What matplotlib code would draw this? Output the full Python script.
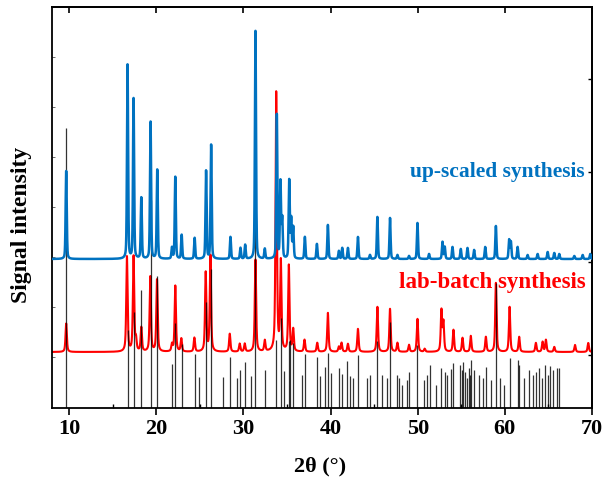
import numpy as np
import matplotlib
matplotlib.use("Agg")
import matplotlib.pyplot as plt

plt.rcParams['font.family'] = ['Liberation Serif', 'DejaVu Serif']
plt.rcParams['font.weight'] = 'bold'

# ---- data (2theta in degrees, intensities in arbitrary units) ----
blue_pos = [9.66, 16.70, 17.39, 18.28, 19.34, 20.11, 21.80, 22.18, 22.91, 24.40,
            25.71, 26.29, 28.51, 29.66, 30.20, 31.38, 32.45, 33.83, 34.25, 34.45,
            35.25, 35.48, 35.71, 37.05, 38.43, 39.69, 40.95, 41.34, 41.99, 43.14,
            44.52, 45.37, 46.82, 47.67, 49.00, 49.97, 51.30, 52.84, 53.10, 53.99,
            54.94, 55.71, 56.47, 57.74, 58.97, 60.49, 60.69, 61.46, 62.61, 63.76,
            64.91, 65.67, 66.24, 67.97, 68.93, 69.80]
blue_int = [88, 194, 160, 61, 137, 89, 11, 82, 24, 21,
            88, 114, 22, 11, 14, 228, 10, 144, 76, 39,
            78, 39, 31, 22, 15, 34, 8, 11, 11, 22,
            4, 42, 41, 4, 3, 36, 5, 17, 12, 12,
            10, 11, 9, 12, 33, 19, 17, 12, 4, 5,
            7, 6, 5, 3, 4, 5]

red_pos = [9.66, 16.63, 17.39, 17.67, 18.28, 19.31, 20.08, 21.80, 22.18, 22.87,
           24.37, 25.67, 26.21, 28.43, 29.57, 30.15, 31.38, 32.45, 33.76, 34.29,
           35.21, 35.71, 37.01, 38.47, 39.69, 40.95, 41.26, 41.99, 43.14, 45.37,
           46.82, 47.67, 49.00, 49.97, 50.80, 52.72, 52.95, 54.10, 55.14, 56.09,
           57.82, 58.97, 60.54, 61.64, 63.56, 64.33, 64.71, 65.67, 68.05, 69.57]
red_int = [28.5, 95, 95, 11, 24, 75, 72, 7, 66, 13,
           14, 79, 96, 18, 8, 8, 92, 11, 259, 89,
           86, 22, 12, 9, 39, 5, 9, 8, 23, 45,
           43, 9, 7, 33, 3, 41, 29, 22, 14, 16,
           15, 69, 45, 15, 9, 10, 12, 5, 7, 9]

ref_pos = [9.66, 16.70, 17.39, 18.28, 19.34, 20.11, 21.80, 22.18, 22.91, 24.40,
           24.86, 25.71, 26.29, 27.64, 28.51, 29.28, 29.66, 30.20, 30.92, 31.38,
           32.45, 33.79, 34.31, 34.68, 35.23, 35.40, 35.69, 36.75, 37.05, 38.45,
           38.77, 39.34, 39.69, 40.00, 40.95, 41.26, 41.84, 42.22, 42.56, 43.14,
           44.22, 44.48, 45.37, 45.94, 46.44, 46.82, 47.59, 47.85, 48.16, 48.74,
           49.00, 49.97, 50.72, 51.03, 51.41, 52.07, 52.72, 53.10, 53.41, 53.79,
           54.10, 54.86, 55.06, 55.25, 55.44, 55.63, 55.83, 56.01, 56.15, 56.47,
           57.05, 57.44, 57.82, 58.39, 58.97, 59.46, 59.92, 60.61, 61.46, 61.64,
           62.15, 62.79, 63.25, 63.56, 63.94, 64.22, 64.60, 64.91, 65.21, 65.56,
           65.98, 66.24]
ref_int = [280, 78, 96, 118, 208, 132, 44, 85, 64, 54,
           31, 106, 139, 31, 51, 30, 38, 46, 32, 300,
           38, 68, 90, 37, 67, 68, 65, 33, 54, 51,
           32, 41, 55, 35, 40, 34, 47, 32, 30, 53,
           30, 33, 67, 33, 30, 86, 33, 30, 23, 28,
           36, 63, 28, 33, 43, 23, 40, 36, 33, 39,
           45, 43, 38, 46, 36, 30, 40, 33, 48, 38,
           33, 30, 41, 28, 125, 30, 23, 50, 48, 43,
           30, 38, 33, 36, 40, 30, 43, 33, 42, 38,
           40, 40]

blue_offset = 148.5
red_offset = 55.5
x_ticks = [10, 20, 30, 40, 50, 60, 70]
labels = ["up-scaled synthesis", "lab-batch synthesis"]
blue_c = '#0072C0'
red_c = '#FF0000'


def profile(x, pos, inten, fwhm, eta):
    g = fwhm / 2.0
    s = fwhm / 2.3548
    y = np.zeros_like(x)
    for p, h in zip(pos, inten):
        lor = g**2 / ((x - p)**2 + g**2)
        gau = np.exp(-0.5 * ((x - p) / s)**2)
        y += h * (eta * lor + (1 - eta) * gau)
    return y


x = np.linspace(8, 70, 14000)
blue_y = profile(x, blue_pos, blue_int, 0.15, 0.35) + blue_offset
red_y = profile(x, red_pos, red_int, 0.18, 0.6) + red_offset

fig = plt.figure(figsize=(6.10, 4.83), dpi=100)
ax = fig.add_axes([0.0848, 0.1563, 0.8857, 0.8298])

ax.vlines(ref_pos, 0, ref_int, colors='black', linewidth=0.9, alpha=0.8, zorder=3)
ax.plot(x, red_y, color=red_c, linewidth=1.5, zorder=2)
ax.plot(x, blue_y, color=blue_c, linewidth=1.8, zorder=4)

ax.set_xlim(8, 70)
ax.set_ylim(0, 400.8)

ax.set_xticks(x_ticks)
ax.set_xticklabels([str(t) for t in x_ticks], fontsize=16, fontweight='bold')
ax.set_xticks([15, 25, 35, 45, 55, 65], minor=True)
ax.tick_params(axis='x', which='major', direction='out', length=5, width=1.2, pad=3)
ax.tick_params(axis='x', which='minor', direction='in', length=3, width=1.0)

ax.set_yticks([])
ax.set_yticks([51, 101, 151, 201, 251, 301, 351], minor=True)
ax.tick_params(axis='y', which='minor', direction='in', length=2.5, width=0.6,
               color='#555555', labelleft=False)

top = ax.secondary_xaxis('top')
top.set_xticks(x_ticks)
top.tick_params(axis='x', which='major', direction='in', length=4, width=1.2, labeltop=False)
top.set_xticks([], minor=True)

right = ax.secondary_yaxis('right')
right.set_yticks([53, 146, 236, 329])
right.tick_params(axis='y', direction='in', length=3, width=1.0, labelright=False)
right.set_yticks([], minor=True)

for s in list(ax.spines.values()) + [top.spines['top'], right.spines['right']]:
    s.set_linewidth(1.3)

ax.text(69.1, 235.5, labels[0], color=blue_c, fontsize=15.5, fontweight='bold',
        ha='right', va='center', zorder=5)
ax.text(69.3, 125.5, labels[1], color=red_c, fontsize=16.5, fontweight='bold',
        ha='right', va='center', zorder=5)

fig.text(22 / 610, 1 - 225 / 483, "Signal intensity", rotation=90, fontsize=17,
         fontweight='bold', ha='center', va='center')
fig.text(320 / 610, 1 - 466 / 483, "2θ (°)", fontsize=16, fontweight='bold',
         ha='center', va='center')

fig.savefig("out.png", dpi=100)
